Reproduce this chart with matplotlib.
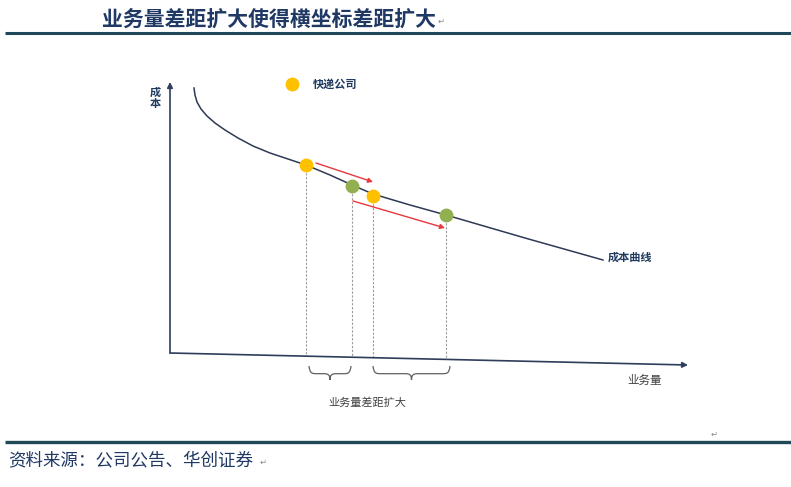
import matplotlib.pyplot as plt
from matplotlib.path import Path
from matplotlib.patches import PathPatch

plt.rcParams['font.family'] = ['Noto Sans CJK SC', 'DejaVu Sans']

# schematic diagram, units = pixels of the 791x487 picture
title = "业务量差距扩大使得横坐标差距扩大"
source = "资料来源：公司公告、华创证券"

# cost curve
curve_x = [194, 195, 197, 201, 207, 215, 225, 238, 253, 270, 288, 306,
           330, 352, 373, 410, 446, 525, 603]
curve_y = [88, 95, 102, 109, 116, 123, 130, 138, 146, 153, 159, 165,
           175, 185, 194, 205, 215, 238, 260]

# companies before / after (business volume, cost)
yellow_x = [306, 373]
yellow_y = [165, 196]
green_x = [352, 446]
green_y = [186, 215]

# x axis is slightly tilted in the original
axis_x = [170, 688]
axis_y = [353, 365]


def axis_at(x):
    return axis_y[0] + (x - axis_x[0]) * (axis_y[1] - axis_y[0]) / (axis_x[1] - axis_x[0])


def brace(ax, x0, x1, ytop, ytip, color):
    xm = (x0 + x1) / 2
    ymid = ytop + (ytip - ytop) * 0.55
    verts = [(x0, ytop), (x0 + 1, ymid), (x0 + 3, ymid), (x0 + 8, ymid),
             (xm - 6, ymid),
             (xm - 2, ymid), (xm, ymid + 1), (xm, ytip),
             (xm, ymid + 1), (xm + 2, ymid), (xm + 6, ymid),
             (x1 - 8, ymid),
             (x1 - 3, ymid), (x1 - 1, ymid), (x1, ytop)]
    codes = [Path.MOVETO, Path.CURVE4, Path.CURVE4, Path.CURVE4,
             Path.LINETO,
             Path.CURVE4, Path.CURVE4, Path.CURVE4,
             Path.CURVE4, Path.CURVE4, Path.CURVE4,
             Path.LINETO,
             Path.CURVE4, Path.CURVE4, Path.CURVE4]
    ax.add_patch(PathPatch(Path(verts, codes), fill=False, edgecolor=color, lw=0.9))


fig = plt.figure(figsize=(7.91, 4.87), dpi=100)
ax = fig.add_axes([0, 0, 1, 1])
ax.set_xlim(0, 791)
ax.set_ylim(487, 0)
ax.axis('off')

navy = "#1F3A5F"
teal = "#1F4858"
axis_col = "#2E3D5C"

# title and rules
ax.text(102, 19, title, fontsize=15, fontweight='bold', color="#1F3864", va='center')
ax.text(438, 21, "↵", fontsize=6, color="#888888", va='center')
ax.plot([5, 791], [33, 33], color=teal, lw=2.2, solid_capstyle='butt')
ax.plot([5, 791], [442, 442], color=teal, lw=2.4, solid_capstyle='butt')
ax.text(711, 434, "↵", fontsize=6, color="#888888", va='center')
ax.text(8, 460, source, fontsize=12.6, color="#1F3864", va='center', style='italic')
ax.text(260, 462, "↵", fontsize=6, color="#888888", va='center')

# axes
ax.annotate("", xy=(170, 82), xytext=(170, axis_y[0]),
            arrowprops=dict(arrowstyle='-|>', color=axis_col, lw=1.2,
                            mutation_scale=8, shrinkA=0, shrinkB=0))
ax.annotate("", xy=(axis_x[1], axis_y[1]), xytext=(axis_x[0], axis_y[0]),
            arrowprops=dict(arrowstyle='-|>', color=axis_col, lw=1.2,
                            mutation_scale=8, shrinkA=0, shrinkB=0))
ax.text(155, 92, "成", fontsize=8, fontweight='bold', color=navy, ha='center', va='center')
ax.text(155, 104, "本", fontsize=8, fontweight='bold', color=navy, ha='center', va='center')
ax.text(627, 380, "业务量", fontsize=8.3, color="#404040", va='center')

# cost curve
ax.plot(curve_x, curve_y, color="#2E3A55", lw=1.1)
ax.text(608, 257, "成本曲线", fontsize=8, fontweight='bold', color=navy, va='center')

# dashed drop lines
for x in yellow_x + green_x:
    y = yellow_y[yellow_x.index(x)] if x in yellow_x else green_y[green_x.index(x)]
    ax.plot([x, x], [y, axis_at(x)], color="#9A9A9A", lw=0.8, ls=(0, (2, 1.5)), zorder=1)

# red shift arrows
ax.annotate("", xy=(373, 182), xytext=(316, 163),
            arrowprops=dict(arrowstyle='-|>', color="#E8383D", lw=1.0,
                            mutation_scale=7, shrinkA=0, shrinkB=0))
ax.annotate("", xy=(445, 228), xytext=(353, 201),
            arrowprops=dict(arrowstyle='-|>', color="#E8383D", lw=1.0,
                            mutation_scale=7, shrinkA=0, shrinkB=0))

# company dots
ax.plot(green_x, green_y, 'o', color="#92B050", markersize=10, mec='none', zorder=5)
ax.plot(yellow_x, yellow_y, 'o', color="#FFC000", markersize=10, mec='none', zorder=5)

# legend
ax.plot([292], [84], 'o', color="#FFC000", markersize=10, mec='none')
ax.text(313, 84, "快递公司", fontsize=8, fontweight='bold', color=navy, va='center')

# braces
brace(ax, 309, 351, 366, 380, "#606060")
brace(ax, 373, 450, 366, 380, "#606060")
ax.text(367, 403, "业务量差距扩大", fontsize=8, color="#404040", ha='center', va='center')

fig.savefig("out.png", dpi=100)
